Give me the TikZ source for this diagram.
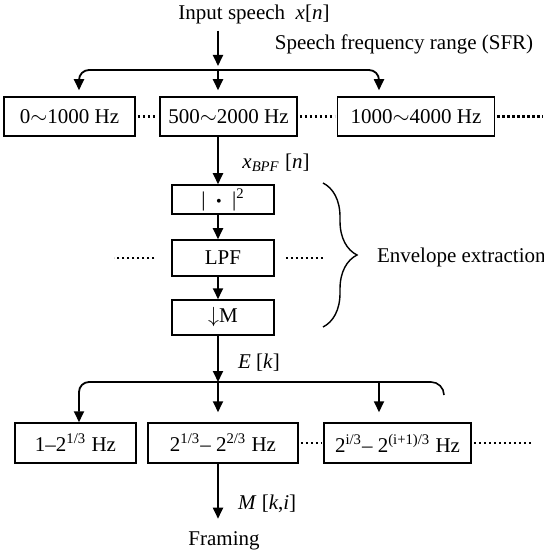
\documentclass[tikz,border=0pt]{standalone}
\usepackage{fontspec}
\setmainfont{Liberation Serif}
\usetikzlibrary{arrows.meta,positioning,decorations.pathreplacing}

\begin{document}
\begin{tikzpicture}[
  x=0.5pt, y=-0.5pt,
  font=\fontsize{10.5}{12.6}\selectfont,
  >={Triangle[length=5.5pt,width=5pt]},
  box/.style={draw, line width=0.75pt, inner sep=0pt, align=center},
  band/.style={box, minimum height=19.5pt},
  env/.style={box, minimum width=51pt},
  oct/.style={box, minimum height=20pt},
  arr/.style={->, line width=0.9pt},
  link/.style={line width=0.8pt},
  dots/.style={line width=1.2pt, dash pattern=on 1.2pt off 1.3pt},
]
\path[use as bounding box] (0,0) rectangle (544,555);

\node (inspeech) at (254,14) {Input speech\enspace\textit{x}[\textit{n}]};
\node (sfrlabel) at (404,44) {Speech frequency range (SFR)};

\coordinate (split) at (218,70);
\coordinate (t1) at (79,0);
\coordinate (t3) at (379,0);

\node[band, minimum width=65.5pt] (band1) at (69.5,116.5) {0$\sim$1000 Hz};
\node[band, minimum width=68.5pt] (band2) at (228.5,116.5) {500$\sim$2000 Hz};
\node[band, minimum width=78.5pt] (band3) at (416,116.5) {1000$\sim$4000 Hz};
\coordinate (bandend) at (543,116.5);

\draw[arr, shorten >=2pt] (split |- inspeech.south) -- (split);
\draw[arr, rounded corners=5pt, shorten >=3pt] (split) -| (t1 |- band1.north);
\draw[arr, shorten >=3pt] (split) -- (split |- band2.north);
\draw[arr, rounded corners=5pt, shorten >=3pt] (split) -| (t3 |- band3.north);
\draw[dots, shorten <=1pt, shorten >=1pt] (band1) -- (band2);
\draw[dots, shorten <=1pt, shorten >=1pt] (band2) -- (band3);
\draw[dots, shorten <=1pt] (band3) -- (bandend);

% envelope extraction chain
\node[env, minimum height=14.5pt] (sq) at (223,199.5)
  {\textbar\enspace{\fontsize{8}{8}\selectfont\textbullet}\enspace\textbar\textsuperscript{2}};
\node[env, minimum height=18pt] (lpf) at (223,258) {LPF};
\node[env, minimum height=17.5pt] (down) at (223,317.5) {$\downarrow$M};
\node (xbpf) at (276,163) {\textit{x}\textsubscript{\textit{BPF}} [\textit{n}]};

\draw[arr] (split |- band2.south) -- (split |- sq.north);
\draw[arr] (split |- sq.south) -- (split |- lpf.north);
\draw[arr] (split |- lpf.south) -- (split |- down.north);
\draw[dots] ([xshift=-8.5pt]lpf.west) -- ++(-40,0);
\draw[dots] ([xshift=5.5pt]lpf.east) -- ++(38,0);

\draw[decorate, decoration={brace, amplitude=17pt}, line width=0.7pt]
  (323,183) -- (323,327);
\node[anchor=west] (envlabel) at (370,257) {Envelope extraction};

% 1/3 octave bands
\coordinate (splitE) at (218,382);
\coordinate (hook) at (444,395);
\node[anchor=west] (ek) at (231,363) {\textit{E} [\textit{k}]};

\node[oct, minimum width=60.5pt] (oct1) at (75.5,443) {1--2\textsuperscript{1/3} Hz};
\node[oct, minimum width=75pt] (oct2) at (223,443) {2\textsuperscript{1/3}-- 2\textsuperscript{2/3} Hz};
\node[oct, minimum width=73.5pt] (oct3) at (397.5,443) {2\textsuperscript{i/3}-- 2\textsuperscript{(i+1)/3} Hz};
\coordinate (octend) at (531,443);

\draw[arr] (split |- down.south) -- (splitE);
\draw[link, rounded corners=6.5pt] (splitE) -| (hook);
\draw[arr, rounded corners=5pt] (splitE) -| (t1 |- oct1.north);
\draw[arr, shorten >=5pt] (splitE) -- (splitE |- oct2.north);
\draw[arr, shorten >=5pt] (t3 |- splitE) -- (t3 |- oct3.north);
\draw[dots, shorten <=1pt, shorten >=1pt] (oct2) -- (oct3);
\draw[dots, shorten <=1pt] (oct3) -- (octend);

\node (framing) at (224,541) {Framing};
\node[anchor=west] (mki) at (231,504) {\textit{M} [\textit{k},\textit{i}]};
\draw[arr, shorten >=3pt] (splitE |- oct2.south) -- (splitE |- framing.north);
\end{tikzpicture}
\end{document}
